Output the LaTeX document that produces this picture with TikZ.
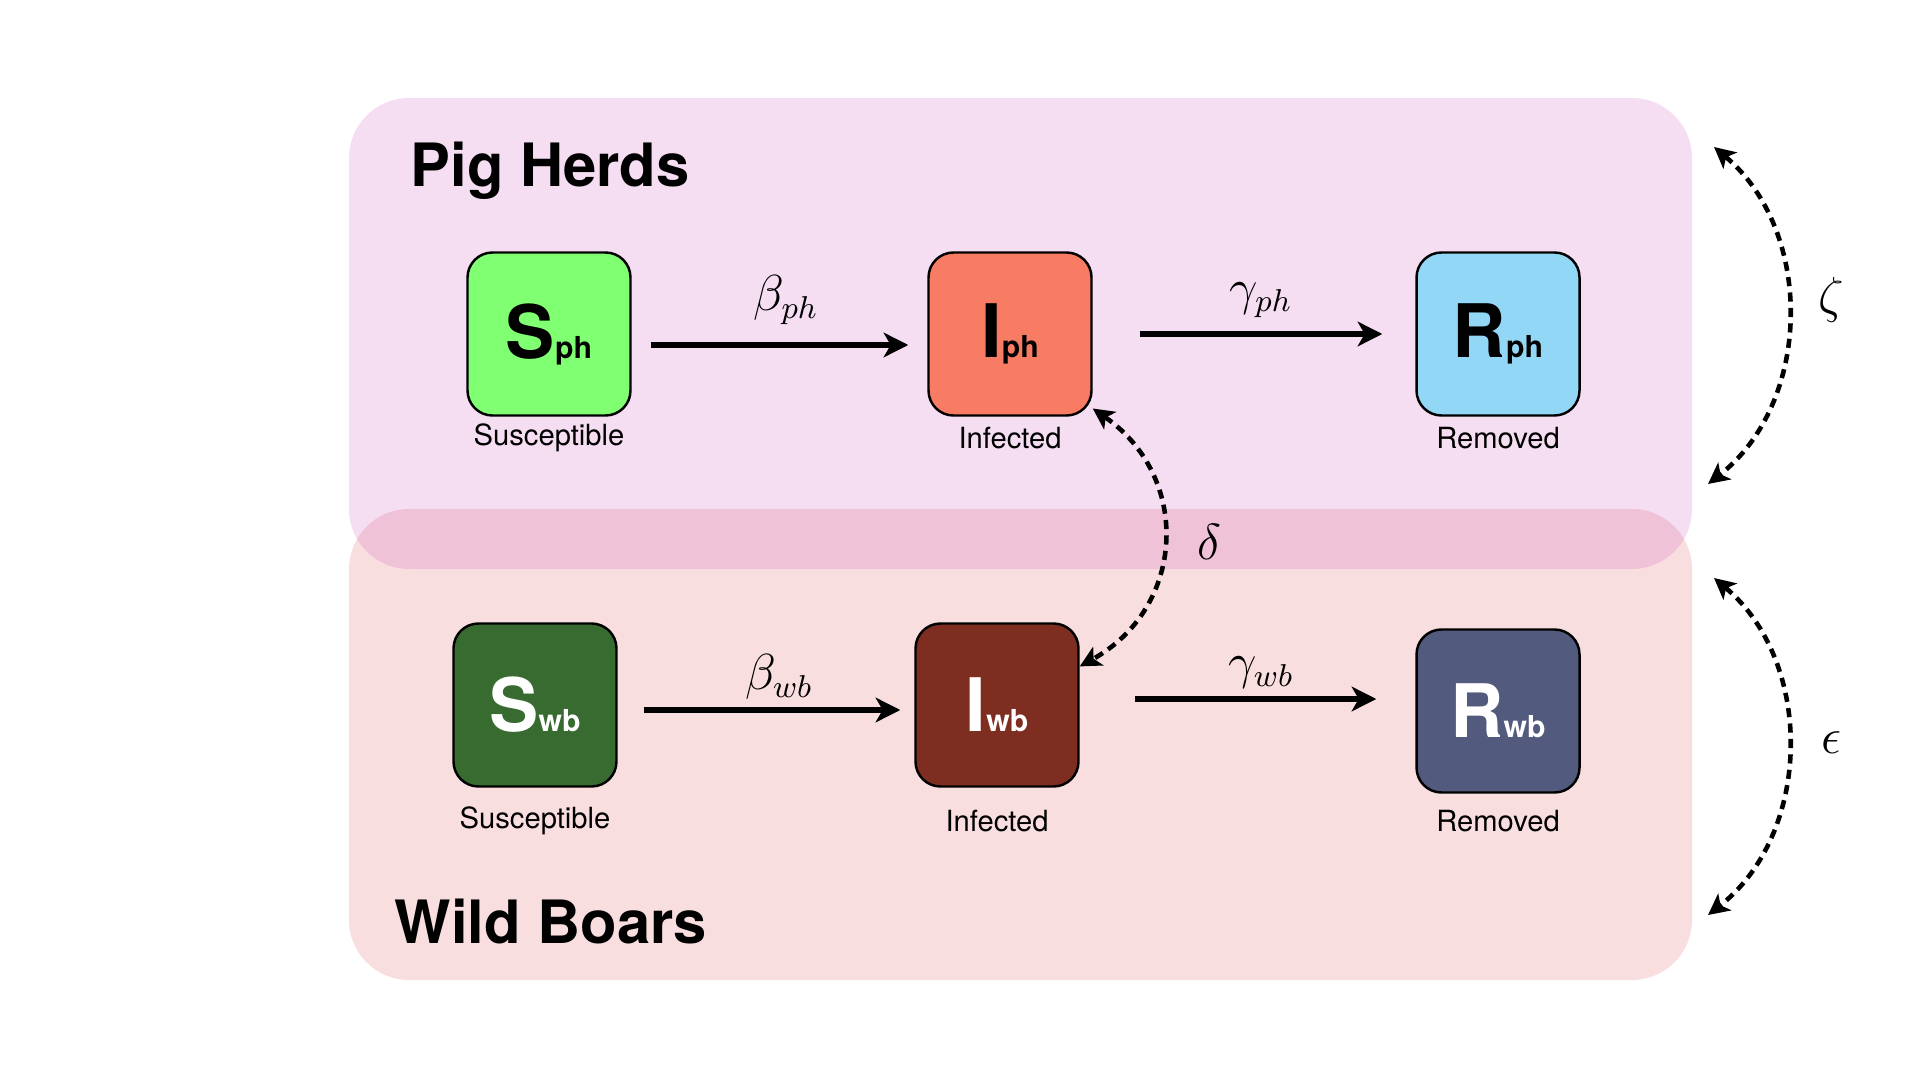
\documentclass[tikz,border=0pt]{standalone}
\usepackage{fontspec}
\setmainfont{TeX Gyre Heros}
\usetikzlibrary{arrows.meta}

\definecolor{phzone}{RGB}{205,85,190}
\definecolor{wbzone}{RGB}{225,90,95}
\definecolor{sph}{RGB}{128,255,115}
\definecolor{iph}{RGB}{247,124,99}
\definecolor{rph}{RGB}{147,215,247}
\definecolor{swb}{RGB}{55,107,47}
\definecolor{iwb}{RGB}{125,46,33}
\definecolor{rwb}{RGB}{82,90,125}

\tikzset{
  zone/.style={rounded corners=0.6cm, opacity=0.2},
  compart/.style={draw=black, line width=0.7pt, rounded corners=0.25cm,
    minimum size=1.63cm, inner sep=0pt},
  caption/.style={font=\fontsize{8.3}{10}\selectfont},
  title/.style={anchor=base west, inner sep=0pt, font=\fontsize{17}{20}\selectfont\bfseries},
  rate/.style={-{Stealth[length=7pt,width=7pt,inset=2pt]}, line width=1.7pt},
  ratelabel/.style={font=\fontsize{13.5}{14}\selectfont},
  couplabel/.style={font=\fontsize{15}{15}\selectfont},
  link/.style={{Stealth[length=6pt,width=6pt,inset=1.5pt]}-{Stealth[length=6pt,width=6pt,inset=1.5pt]},
    line width=1.3pt, dash pattern=on 2.6pt off 1.8pt}
}
\newcommand{\comp}[2]{{\fontsize{21}{21}\selectfont\bfseries #1}{\fontsize{8.6}{9}\selectfont\bfseries #2}}

\begin{document}
\begin{tikzpicture}
\useasboundingbox (0,0) rectangle (19.2,-10.8);

% the two populations
\fill[zone, wbzone] (3.49,-5.09) rectangle (16.92,-9.80);
\fill[zone, phzone] (3.49,-0.98) rectangle (16.92,-5.69);
\node[title] (ph) at (4.10,-1.87) {Pig Herds};
\node[title] (wb) at (3.94,-9.43) {Wild Boars};

% pig herds
\node[compart, fill=sph] (Sph) at (5.49,-3.34) {\comp{S}{ph}};
\node[compart, fill=iph] (Iph) at (10.10,-3.34) {\comp{I}{ph}};
\node[compart, fill=rph] (Rph) at (14.98,-3.34) {\comp{R}{ph}};
\node[caption] (Sphl) at (5.49,-4.38) {Susceptible};
\node[caption] (Iphl) at (10.10,-4.38) {Infected};
\node[caption] (Rphl) at (14.98,-4.38) {Removed};

% wild boars
\node[compart, fill=swb, text=white] (Swb) at (5.35,-7.05) {\comp{S}{wb}};
\node[compart, fill=iwb, text=white] (Iwb) at (9.97,-7.05) {\comp{I}{wb}};
\node[compart, fill=rwb, text=white] (Rwb) at (14.98,-7.11) {\comp{R}{wb}};
\node[caption] (Swbl) at (5.35,-8.21) {Susceptible};
\node[caption] (Iwbl) at (9.97,-8.21) {Infected};
\node[caption] (Rwbl) at (14.98,-8.21) {Removed};

% transitions
\draw[rate, shorten <=0.19cm, shorten >=0.19cm] ([yshift=-0.11cm]Sph.east) -- ([yshift=-0.11cm]Iph.west);
\draw[rate, shorten <=0.47cm, shorten >=0.33cm] (Iph.east) -- (Rph.west);
\draw[rate, shorten <=0.26cm, shorten >=0.14cm] ([yshift=-0.05cm]Swb.east) -- ([yshift=-0.05cm]Iwb.west);
\draw[rate, shorten <=0.55cm, shorten >=0.39cm] ([yshift=0.06cm]Iwb.east) -- ([yshift=0.12cm]Rwb.west);
\node[ratelabel] (bph) at (7.86,-3.00) {$\beta_{ph}$};
\node[ratelabel] (gph) at (12.61,-3.00) {$\gamma_{ph}$};
\node[ratelabel] (bwb) at (7.79,-6.77) {$\beta_{wb}$};
\node[ratelabel] (gwb) at (12.61,-6.73) {$\gamma_{wb}$};

% coupling
\draw[link] (Iph.-42) to[bend left=58, looseness=1.2] (Iwb.25);
\node[couplabel] (delta) at (12.09,-5.42) {$\delta$};

\coordinate (zt) at (17.14,-1.47);
\coordinate (zb) at (17.08,-4.84);
\coordinate (et) at (17.14,-5.78);
\coordinate (eb) at (17.08,-9.15);
\draw[link] (zt) to[bend left=51] (zb);
\draw[link] (et) to[bend left=51] (eb);
\node[couplabel] (zeta) at (18.31,-3.00) {$\zeta$};
\node[couplabel] (eps) at (18.31,-7.43) {$\epsilon$};
\end{tikzpicture}
\end{document}
